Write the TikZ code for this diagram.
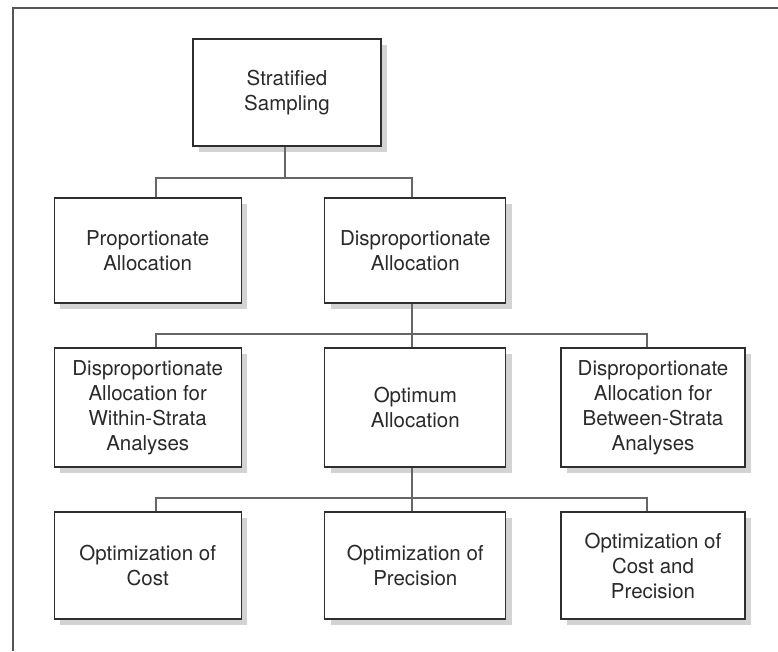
\documentclass[tikz,border=0pt]{standalone}
\usepackage{fontspec}
\setmainfont{TeX Gyre Heros}
\usetikzlibrary{shadows}
\definecolor{boxline}{HTML}{2E2E2E}
\definecolor{connline}{HTML}{666666}
\definecolor{shadowgray}{HTML}{D3D3D3}
\definecolor{txt}{HTML}{2A2A2A}
\definecolor{framegray}{HTML}{555555}
\tikzset{
  boxnode/.style={draw=boxline, line width=1.2pt, fill=white, rectangle,
    align=center, inner sep=0pt, text=txt,
    font=\fontsize{20.5}{25}\selectfont,
    drop shadow={shadow xshift=6pt, shadow yshift=-6pt, fill=shadowgray, opacity=1}},
  conn/.style={draw=connline, line width=1.4pt},
  framestyle/.style={draw=framegray, line width=1.2pt}
}
\begin{document}
\begin{tikzpicture}[x=1pt,y=-1pt]
\useasboundingbox (0,0) rectangle (778,651);
\draw[framestyle] (13,651) -- (13,8) -- (778,8);

\node[boxnode, minimum width=188pt, minimum height=107pt] (ss) at (287,92.5) {Stratified\\Sampling};
\node[boxnode, minimum width=187pt, minimum height=105pt] (pa) at (147.7,250.5) {Proportionate\\Allocation};
\node[boxnode, minimum width=181pt, minimum height=105pt] (da) at (415.3,250.5) {Disproportionate\\Allocation};
\node[boxnode, minimum width=187pt, minimum height=119pt] (dw) at (147.7,407.5) {Disproportionate\\Allocation for\\Within-Strata\\Analyses};
\node[boxnode, minimum width=181pt, minimum height=119pt] (oa) at (415.3,407.5) {Optimum\\Allocation};
\node[boxnode, minimum width=184pt, minimum height=119pt] (db) at (653,407.5) {Disproportionate\\Allocation for\\Between-Strata\\Analyses};
\node[boxnode, minimum width=187pt, minimum height=107pt] (oc) at (147.7,565.5) {Optimization of\\Cost};
\node[boxnode, minimum width=181pt, minimum height=107pt] (op) at (415.3,565.5) {Optimization of\\Precision};
\node[boxnode, minimum width=184pt, minimum height=107pt] (ocp) at (653,565.5) {Optimization of\\Cost and\\Precision};

\coordinate (b1) at (285,178);
\coordinate (b2) at (412,334);
\coordinate (b3) at (412,498);
\coordinate (cL) at (156,0);
\coordinate (cM) at (412,0);
\coordinate (cR) at (647,0);

\draw[conn] (ss.south -| b1) -- (b1);
\draw[conn] (pa.north -| cL) -- (cL |- b1) -- (cM |- b1) -- (da.north -| cM);

\draw[conn] (da.south -| b2) -- (b2);
\draw[conn] (dw.north -| cL) -- (cL |- b2) -- (cR |- b2) -- (db.north -| cR);
\draw[conn] (b2) -- (oa.north -| b2);

\draw[conn] (oa.south -| b3) -- (b3);
\draw[conn] (oc.north -| cL) -- (cL |- b3) -- (cR |- b3) -- (ocp.north -| cR);
\draw[conn] (b3) -- (op.north -| b3);
\end{tikzpicture}
\end{document}
